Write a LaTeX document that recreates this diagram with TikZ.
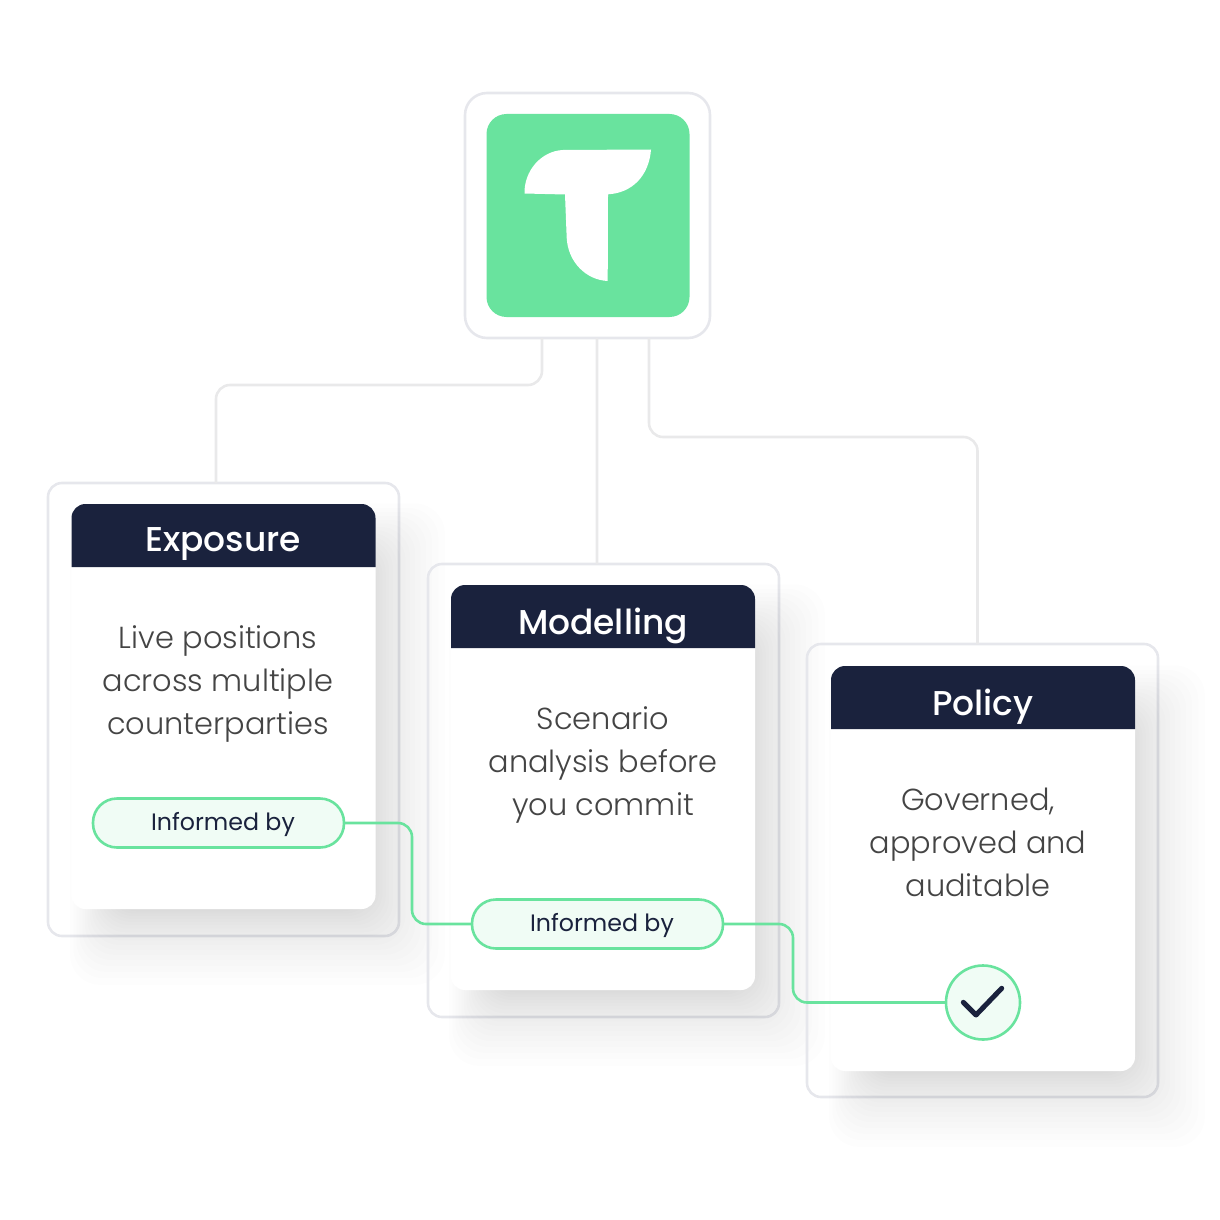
\documentclass[tikz,border=0pt]{standalone}
\usepackage{fontspec}
\setmainfont{Poppins}
\newfontfamily\bodyfont{Poppins Light}
\newfontfamily\headfont{Poppins Medium}
\usetikzlibrary{calc}
\def\px{.1mm}
\def\pilltext{\hspace*{.9mm}\raisebox{0pt}[1.4mm][0pt]{Informed by}}
\definecolor{mint}{HTML}{69E39E}
\definecolor{mintpale}{HTML}{F0FCF5}
\definecolor{navy}{HTML}{1A223D}
\definecolor{rim}{HTML}{E6E7EC}
\definecolor{linegrey}{HTML}{E9E9EA}
\definecolor{copy}{HTML}{444444}
\tikzset{
  framebox/.style={draw=rim,line width=2.6*\px,rounded corners=14*\px,inner sep=0,outer sep=0,
    minimum width=351*\px,minimum height=453*\px},
  cardbox/.style={fill=white,rounded corners=14*\px,inner sep=0,outer sep=0,
    minimum width=304*\px,minimum height=405*\px},
  cardhead/.style={fill=navy,rounded corners=14*\px},
  cardtitle/.style={text=white,inner sep=0,font=\headfont\fontsize{9.8pt}{12pt}\selectfont},
  cardtext/.style={text=copy,align=center,inner sep=0,font=\bodyfont\fontsize{8.65pt}{12.23pt}\selectfont},
  pill/.style={draw=mint,fill=mintpale,line width=2.6*\px,rounded corners=24*\px,inner sep=0,outer sep=0,
    minimum width=251*\px,minimum height=49*\px,font=\fontsize{6.75pt}{9pt}\selectfont,text=navy},
  greyline/.style={draw=linegrey,line width=2.6*\px,rounded corners=14*\px},
  mintline/.style={draw=mint,line width=2.6*\px,rounded corners=14*\px},
}
\begin{document}
\begin{tikzpicture}[x=\px,y=-\px]
\useasboundingbox (0,0) rectangle (1220,1220);
% top logo
\node [framebox,minimum width=245*\px,minimum height=245*\px,rounded corners=22*\px] (logobox) at (587.5,215.5) {};
\node [fill=mint,rounded corners=20*\px,inner sep=0,minimum width=203*\px,minimum height=203*\px] (logo) at (588,215.5) {};
\fill [white] (651,149.5) -- (563,150) .. controls (541,151) and (524,171) .. (524.5,193.5)
  -- (565,194.5) -- (566.7,238) .. controls (568,262) and (586,280) .. (607.7,281)
  -- (608,194.3) .. controls (632,193) and (649,176) .. cycle;
% frames and their cards
\node [framebox] (frameExp) at (223.5,709.5) {};
\foreach \e in {1,...,40}
  \fill [black,opacity=.008,rounded corners=30*\px]
    ({115-.0007*\e*\e*\e},{564-.00094*\e*\e*\e}) rectangle ({355+.0014*\e*\e*\e},{894+.00142*\e*\e*\e});
\node [cardbox] (cardExp) at (223.5,706.5) {};
\fill [cardhead] (71.5,567) -- (71.5,504) -- (375.5,504) -- (375.5,567);
\node [cardtitle] (titleExp) at (223,544.5) {Exposure};
\node [cardtext] (textExp) at (218,684) {Live positions\\across multiple\\counterparties};

\node [framebox] (frameMod) at (603.5,790.5) {};
\foreach \e in {1,...,40}
  \fill [black,opacity=.008,rounded corners=30*\px]
    ({494-.0007*\e*\e*\e},{645-.00094*\e*\e*\e}) rectangle ({735+.0014*\e*\e*\e},{975+.00142*\e*\e*\e});
\node [cardbox] (cardMod) at (603,787.5) {};
\fill [cardhead] (451,648) -- (451,585) -- (755,585) -- (755,648);
\node [cardtitle] (titleMod) at (603,625.5) {Modelling};
\node [cardtext] (textMod) at (603,765) {Scenario\\analysis before\\you commit};

\node [framebox] (framePol) at (982.5,870.5) {};
\foreach \e in {1,...,40}
  \fill [black,opacity=.008,rounded corners=30*\px]
    ({874-.0007*\e*\e*\e},{726-.00094*\e*\e*\e}) rectangle ({1115+.0014*\e*\e*\e},{1056+.00142*\e*\e*\e});
\node [cardbox] (cardPol) at (983,868.5) {};
\fill [cardhead] (831,729) -- (831,666) -- (1135,666) -- (1135,729);
\node [cardtitle] (titlePol) at (983,706.5) {Policy};
\node [cardtext] (textPol) at (978,842) {Governed,\\approved and\\auditable};

% lines from the logo
\draw [greyline] ($(logobox.south)+(-45.5,0)$) |- (216,385) -- ($(frameExp.north)+(-7.5,0)$);
\draw [greyline] ($(logobox.south)+(9.5,0)$) -- ($(frameMod.north)+(-6.5,0)$);
\draw [greyline] ($(logobox.south)+(61.5,0)$) |- (977.5,437) -- ($(framePol.north)+(-5,0)$);

% informed by
\node [pill] (pillExp) at (218.5,823) {\pilltext};
\node [pill] (pillMod) at (597.5,924) {\pilltext};
\node [circle,draw=mint,fill=mintpale,line width=2.6*\px,inner sep=0,outer sep=0,minimum size=74*\px] (tick) at (983,1002.5) {};
\draw [navy,line width=5*\px,line cap=round,line join=round] (963.3,1002.3) -- (976,1015) -- (1001.7,988.3);
\draw [mintline] (pillExp.east) -- (412,823) -- (412,924) -- (pillMod.west);
\draw [mintline] (pillMod.east) -- (793,924) -- (793,1002.5) -- (tick.west);
\end{tikzpicture}
\end{document}
